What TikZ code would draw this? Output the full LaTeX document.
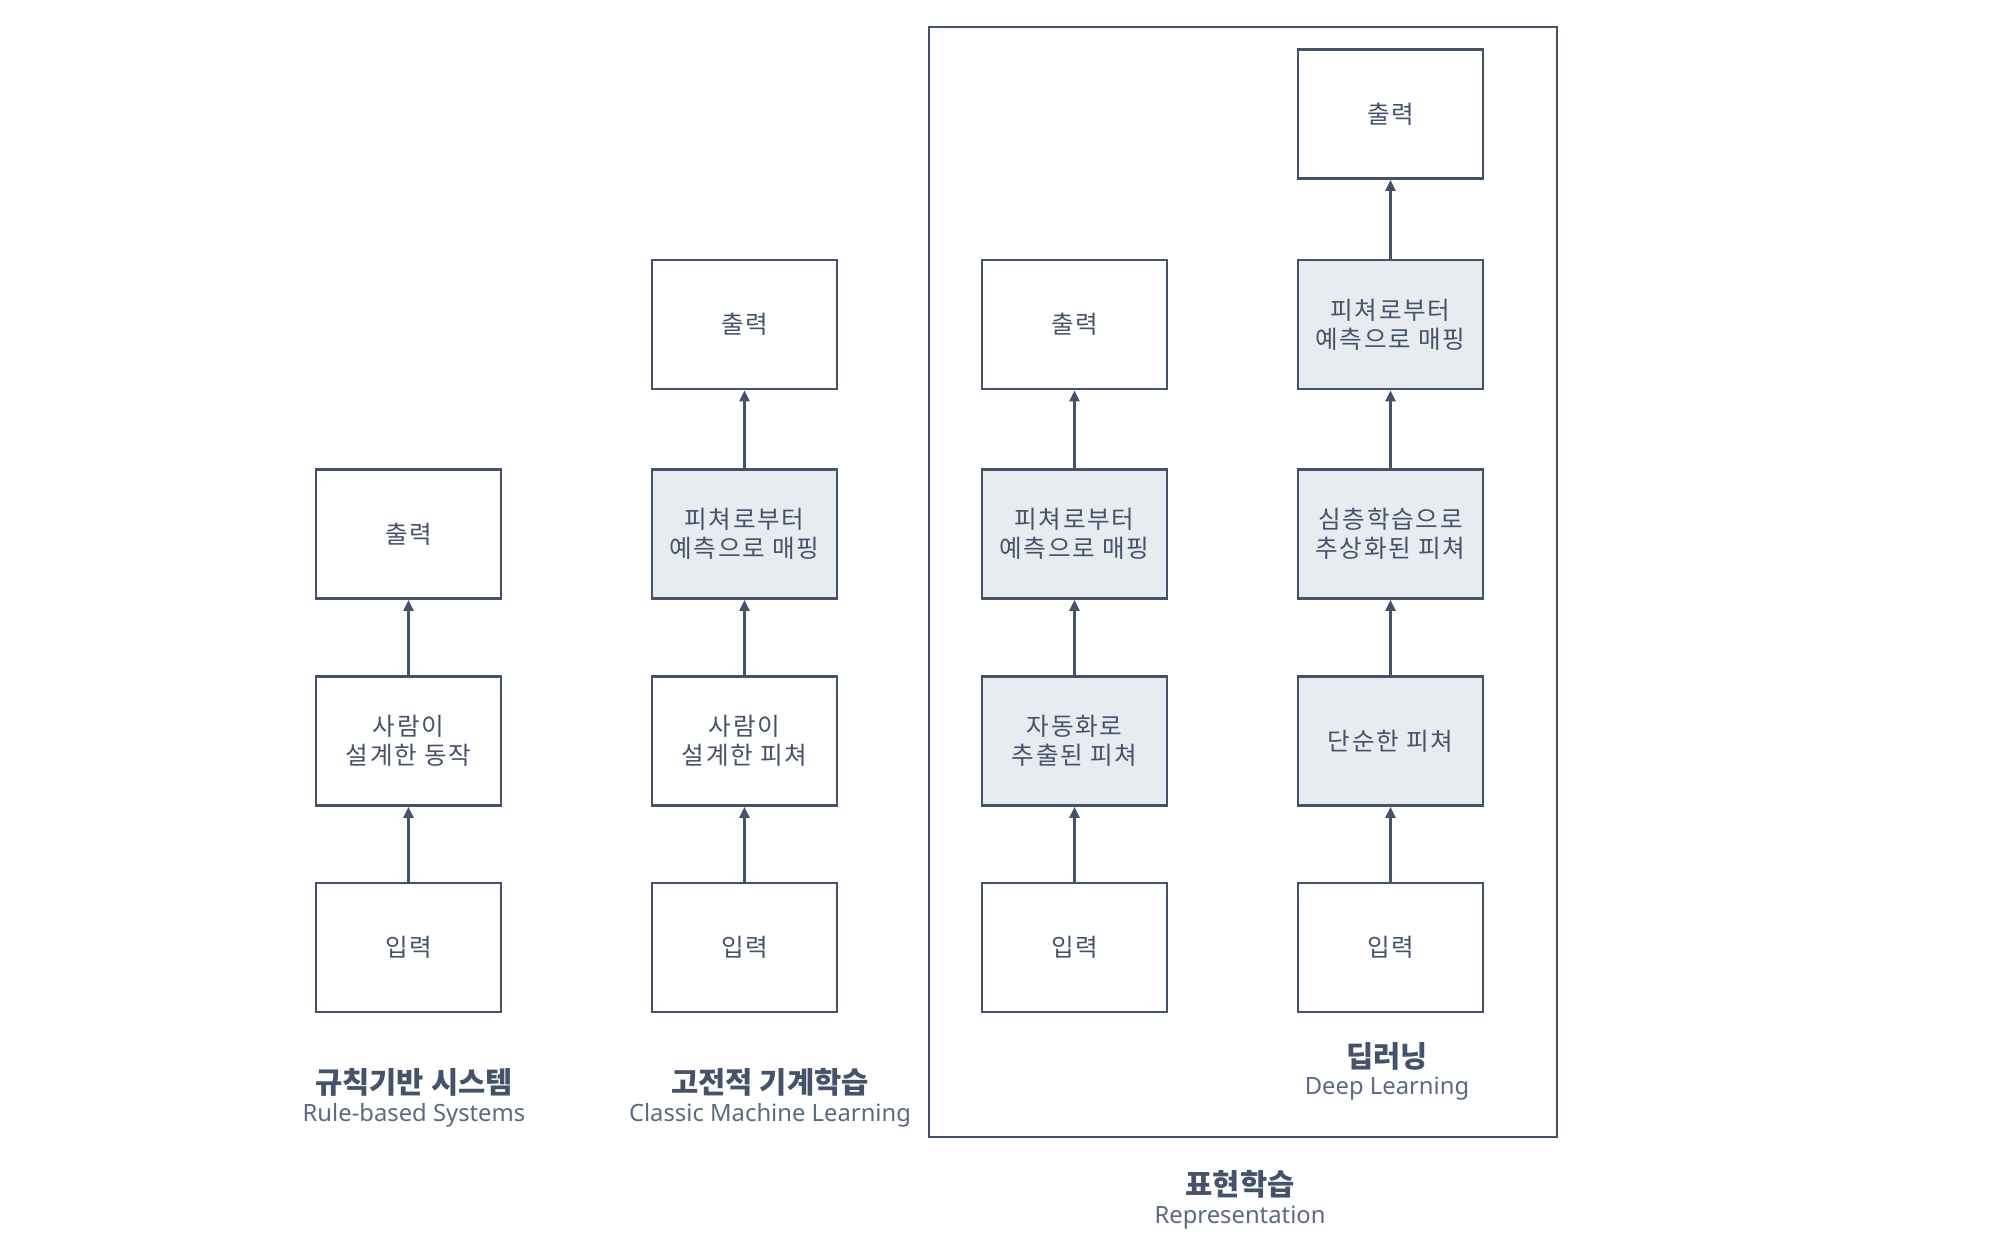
\documentclass[tikz,border=0pt]{standalone}
\usepackage{fontspec}
\setmainfont{Noto Sans CJK KR}
\newfontfamily\latinsub{Noto Sans}
\usetikzlibrary{arrows.meta}
\definecolor{ink}{HTML}{45536A}
\definecolor{sub}{HTML}{5B6A80}
\definecolor{boxfill}{HTML}{E8ECF1}
\tikzset{
  bx/.style={draw=ink, line width=1.4pt, minimum width=92.5pt, minimum height=64.5pt,
    align=center, text=ink, font=\fontsize{12.3}{14.5}\selectfont\addfontfeatures{LetterSpace=7}, inner sep=0pt},
  fl/.style={bx, fill=boxfill},
  conn/.style={draw=ink, line width=1.4pt, -{Triangle[length=5.5pt,width=5pt]}},
  ttl/.style={text=ink, font=\fontsize{14.8}{16}\selectfont\bfseries, inner sep=0pt},
  subt/.style={text=sub, font=\fontsize{11.9}{13}\latinsub, inner sep=0pt},
}
\begin{document}
\begin{tikzpicture}[x=0.5pt,y=-0.5pt]
\useasboundingbox (0,0) rectangle (1999,1243);
\node[draw=ink, line width=1.2pt, minimum width=314pt, minimum height=555pt, inner sep=0pt] (frame) at (1243,582) {};
% column 1
\node[bx] (a3) at (408.5,534) {출력};
\node[bx] (a4) at (408.5,741) {사람이\\설계한 동작};
\node[bx] (a5) at (408.5,947.5) {입력};
% column 2
\node[bx] (b2) at (744.5,324.5) {출력};
\node[fl] (b3) at (744.5,534) {피쳐로부터\\예측으로 매핑};
\node[bx] (b4) at (744.5,741) {사람이\\설계한 피쳐};
\node[bx] (b5) at (744.5,947.5) {입력};
% column 3
\node[bx] (c2) at (1074.5,324.5) {출력};
\node[fl] (c3) at (1074.5,534) {피쳐로부터\\예측으로 매핑};
\node[fl] (c4) at (1074.5,741) {자동화로\\추출된 피쳐};
\node[bx] (c5) at (1074.5,947.5) {입력};
% column 4
\node[bx] (d1) at (1390.5,114) {출력};
\node[fl] (d2) at (1390.5,324.5) {피쳐로부터\\예측으로 매핑};
\node[fl] (d3) at (1390.5,534) {심층학습으로\\추상화된 피쳐};
\node[fl] (d4) at (1390.5,741) {단순한 피쳐};
\node[bx] (d5) at (1390.5,947.5) {입력};
% connectors
\draw[conn] (a5) -- (a4);
\draw[conn] (a4) -- (a3);
\draw[conn] (b5) -- (b4);
\draw[conn] (b4) -- (b3);
\draw[conn] (b3) -- (b2);
\draw[conn] (c5) -- (c4);
\draw[conn] (c4) -- (c3);
\draw[conn] (c3) -- (c2);
\draw[conn] (d5) -- (d4);
\draw[conn] (d4) -- (d3);
\draw[conn] (d3) -- (d2);
\draw[conn] (d2) -- (d1);
% labels
\node[ttl] (t1) at (414,1082) {규칙기반 시스템};
\node[subt] (s1) at (414,1115) {Rule-based Systems};
\node[ttl] (t2) at (770,1082) {고전적 기계학습};
\node[subt] (s2) at (770,1115) {Classic Machine Learning};
\node[ttl] (t3) at (1387,1056) {딥러닝};
\node[subt] (s3) at (1387,1089) {Deep Learning};
\node[ttl] (t4) at (1240,1184) {표현학습};
\node[subt] (s4) at (1240,1218) {Representation};
\end{tikzpicture}
\end{document}
